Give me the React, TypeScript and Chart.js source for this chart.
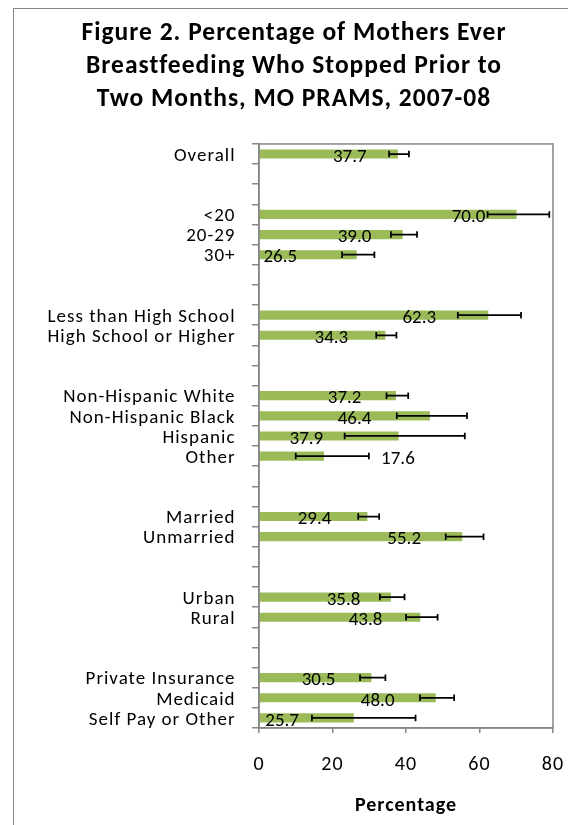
import React, { useEffect, useRef } from "react";
import { Chart, registerables } from "chart.js";

Chart.register(...registerables);

const categories = [
  "Overall", "", "",
  "<20", "20-29", "30+", "", "",
  "Less than High School", "High School or Higher", "", "",
  "Non-Hispanic White", "Non-Hispanic Black", "Hispanic", "Other", "", "",
  "Married", "Unmarried", "", "",
  "Urban", "Rural", "", "",
  "Private Insurance", "Medicaid", "Self Pay or Other",
];

const values = [
  37.7, null, null,
  70.0, 39.0, 26.5, null, null,
  62.3, 34.3, null, null,
  37.2, 46.4, 37.9, 17.6, null, null,
  29.4, 55.2, null, null,
  35.8, 43.8, null, null,
  30.5, 48.0, 25.7,
];

const lowerCI = [
  35.4, null, null,
  62.2, 35.9, 22.6, null, null,
  54.1, 31.9, null, null,
  34.7, 37.5, 23.3, 10.0, null, null,
  27.0, 50.8, null, null,
  32.9, 40.0, null, null,
  27.5, 43.8, 14.4,
];

const upperCI = [
  40.8, null, null,
  79.0, 43.0, 31.4, null, null,
  71.3, 37.4, null, null,
  40.6, 56.6, 56.0, 29.9, null, null,
  32.7, 61.1, null, null,
  39.6, 48.6, null, null,
  34.4, 53.1, 42.6,
];

// where each value label sits, in percentage units along the axis
const labelAnchor = [
  24.7, null, null,
  57.0, 26.0, 5.8, null, null,
  43.6, 19.7, null, null,
  23.3, 26.0, 12.9, 37.8, null, null,
  15.1, 39.5, null, null,
  23.0, 29.0, null, null,
  16.2, 32.3, 6.3,
];

const xMin = 0;
const xMax = 80;
const xStep = 20;

const titleLines = [
  "Figure 2. Percentage of Mothers Ever",
  "Breastfeeding Who Stopped Prior to",
  "Two Months, MO PRAMS, 2007-08",
];
const axisTitle = "Percentage";

const FONT = "Carlito, Lato, 'Open Sans', sans-serif";
const GRAY = "#868686";
const GREEN = "#9BBB59";
const SPACING = "1px";

const spacingPlugin = {
  id: "spacing",
  beforeLayout(chart: any) {
    chart.ctx.letterSpacing = SPACING;
  },
  beforeDraw(chart: any) {
    chart.ctx.letterSpacing = SPACING;
  },
};

const overlayPlugin = {
  id: "overlay",
  afterDatasetsDraw(chart: any) {
    const { ctx, chartArea } = chart;
    const x = chart.scales.x;
    const y = chart.scales.y;
    ctx.save();
    // value labels
    ctx.letterSpacing = "0px";
    ctx.fillStyle = "#000";
    ctx.font = `19px ${FONT}`;
    ctx.textAlign = "center";
    ctx.textBaseline = "middle";
    values.forEach((v, i) => {
      if (v == null || labelAnchor[i] == null) return;
      ctx.fillText(
        v.toFixed(1),
        x.getPixelForValue(labelAnchor[i] as number),
        y.getPixelForValue(i) + 3
      );
    });
    // error bars
    ctx.strokeStyle = "#000";
    ctx.lineWidth = 1.75;
    values.forEach((v, i) => {
      if (v == null) return;
      const yc = y.getPixelForValue(i);
      const x0 = x.getPixelForValue(lowerCI[i] as number);
      const x1 = x.getPixelForValue(upperCI[i] as number);
      ctx.beginPath();
      ctx.moveTo(x0, yc);
      ctx.lineTo(x1, yc);
      ctx.moveTo(x0, yc - 3.25);
      ctx.lineTo(x0, yc + 3.25);
      ctx.moveTo(x1, yc - 3.25);
      ctx.lineTo(x1, yc + 3.25);
      ctx.stroke();
    });
    // plot area frame
    ctx.strokeStyle = GRAY;
    ctx.lineWidth = 1.5;
    ctx.strokeRect(chartArea.left, chartArea.top, chartArea.width, chartArea.height);
    ctx.restore();
  },
};

export default function App() {
  const canvasRef = useRef<HTMLCanvasElement | null>(null);

  useEffect(() => {
    if (!canvasRef.current) return;
    const chart = new Chart(canvasRef.current, {
      type: "bar",
      data: {
        labels: categories,
        datasets: [
          {
            data: values as any,
            backgroundColor: GREEN,
            borderWidth: 0,
            barThickness: 8.5,
          },
        ],
      },
      options: {
        indexAxis: "y",
        responsive: false,
        animation: false,
        layout: { padding: 0 },
        plugins: {
          legend: { display: false },
          tooltip: { enabled: false },
          title: {
            display: true,
            text: titleLines,
            color: "#000",
            font: { family: FONT, size: 25.5, weight: "bold", lineHeight: 1.3 },
            padding: { top: 8, bottom: 27.5 },
          },
        },
        scales: {
          x: {
            type: "linear",
            min: xMin,
            max: xMax,
            afterFit: (s: any) => {
              s.height = 97;
              s.paddingLeft = 0;
              s.paddingRight = 0;
            },
            ticks: {
              stepSize: xStep,
              color: "#000",
              padding: 20,
              font: { family: FONT, size: 20 },
            },
            grid: {
              display: true,
              drawOnChartArea: false,
              tickLength: 5,
              color: GRAY,
              lineWidth: 1.5,
            },
            border: { display: true, color: GRAY, width: 1.5 },
            title: {
              display: true,
              text: axisTitle,
              color: "#000",
              font: { family: FONT, size: 20, weight: "bold", lineHeight: 1.2 },
              padding: { top: 0, bottom: 7 },
            },
          },
          y: {
            type: "category",
            afterFit: (s: any) => {
              s.width = 245;
              s.paddingTop = 0;
              s.paddingBottom = 0;
            },
            ticks: {
              autoSkip: false,
              color: "#000",
              padding: 16.5,
              labelOffset: 2,
              font: { family: FONT, size: 19 },
            },
            grid: {
              display: true,
              drawOnChartArea: false,
              offset: true,
              tickLength: 7,
              color: GRAY,
              lineWidth: 1.5,
            },
            border: { display: true, color: GRAY, width: 1.5 },
          },
          // empty right-hand gutter so the title centres on the whole canvas
          gutter: {
            type: "category",
            position: "right",
            display: true,
            afterFit: (s: any) => {
              s.width = 21;
              s.paddingTop = 0;
              s.paddingBottom = 0;
            },
            ticks: { display: false },
            grid: { display: false },
            border: { display: false },
          },
        },
      },
      plugins: [spacingPlugin, overlayPlugin],
    } as any);
    return () => chart.destroy();
  }, []);

  return (
    <div
      style={{
        marginLeft: 5,
        width: 560,
        height: 820,
        border: `1px solid ${GRAY}`,
        background: "#fff",
      }}
    >
      <style>{"html,body{overflow:hidden}"}</style>
      <canvas ref={canvasRef} width={560} height={816} style={{ display: "block" }} />
    </div>
  );
}
